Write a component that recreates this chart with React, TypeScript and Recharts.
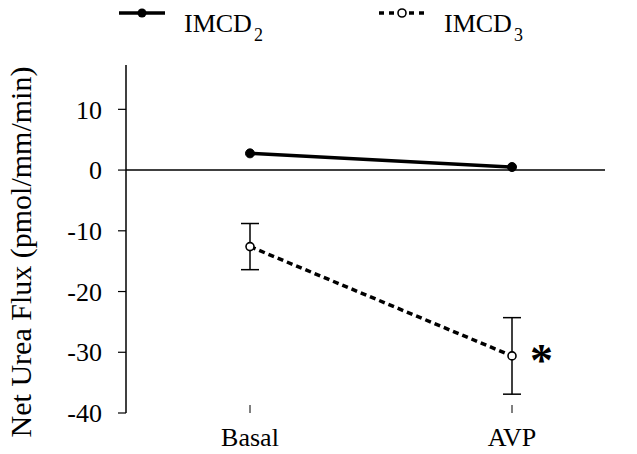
import React from 'react';
import { LineChart, Line, XAxis, YAxis, ReferenceLine, ErrorBar, LabelList } from 'recharts';

const categories = ['Basal', 'AVP'];
const imcd2 = [2.75, 0.5];
const imcd3 = [-12.6, -30.6];
const imcd3Err = [3.8, 6.3];
const imcd3Sig = ['', '*'];
const yTicks = [-40, -30, -20, -10, 0, 10];

const data = categories.map((name, i) => ({
  name,
  imcd2: imcd2[i],
  imcd3: imcd3[i],
  err3: imcd3Err[i],
  sig: imcd3Sig[i],
}));

const FONT = "'Liberation Serif', 'Times New Roman', Times, 'DejaVu Serif', serif";

const XTick = (props: any) => {
  const { x, y, payload } = props;
  return (
    <g>
      <line x1={x} x2={x} y1={y - 8} y2={y} stroke="#000" strokeWidth={1} />
      <text x={x} y={y + 33} textAnchor="middle" fontFamily={FONT} fontSize={26} fill="#000">
        {payload.value}
      </text>
    </g>
  );
};

const Sig = (props: any) => {
  const { x, y, value } = props;
  if (!value) return null;
  return (
    <text x={x + 18} y={y + 20} fontFamily={FONT} fontSize={46} fontWeight="bold" fill="#000">
      {value}
    </text>
  );
};

const YLabel = (props: any) => {
  const { viewBox } = props;
  const cx = 31;
  const cy = viewBox.y + viewBox.height / 2 + 13;
  return (
    <text
      x={cx}
      y={cy}
      transform={`rotate(-90, ${cx}, ${cy})`}
      textAnchor="middle"
      fontFamily={FONT}
      fontSize={30}
      fill="#000"
    >
      Net Urea Flux (pmol/mm/min)
    </text>
  );
};

function LegendBox() {
  return (
    <svg width={637} height={50} style={{ position: 'absolute', left: 0, top: 0 }}>
      <line x1={119} x2={165} y1={13} y2={13} stroke="#000" strokeWidth={3.5} />
      <circle cx={142} cy={13} r={4.5} fill="#000" />
      <text x={184} y={32} fontFamily={FONT} fontSize={26} fill="#000">
        IMCD<tspan fontSize={18} dx={2} dy={9}>2</tspan>
      </text>
      <line x1={379} x2={424} y1={13} y2={13} stroke="#000" strokeWidth={3.5} strokeDasharray="5 5" />
      <circle cx={402} cy={13} r={4} fill="#fff" stroke="#000" strokeWidth={1.6} />
      <text x={444} y={32} fontFamily={FONT} fontSize={26} fill="#000">
        IMCD<tspan fontSize={18} dx={2} dy={9}>3</tspan>
      </text>
    </svg>
  );
}

export default function App() {
  return (
    <div style={{ position: 'absolute', left: 0, top: 0, width: 637, height: 454, background: '#fff', fontFamily: FONT }}>
      <LineChart
        width={637}
        height={454}
        data={data}
        margin={{ top: 65, right: 32, bottom: 0, left: 0 }}
        style={{ fontFamily: FONT }}
      >
        <XAxis
          dataKey="name"
          axisLine={false}
          tickLine={false}
          tickSize={0}
          tickMargin={0}
          height={41}
          padding={{ left: 124, right: 93 }}
          tick={<XTick />}
        />
        <YAxis
          width={126}
          domain={[-40, 17.3]}
          ticks={yTicks}
          allowDataOverflow
          axisLine={{ stroke: '#000', strokeWidth: 1.5 }}
          tickLine={{ stroke: '#000', strokeWidth: 1.2 }}
          tickSize={8}
          tickMargin={16}
          tick={{ fill: '#000', fontSize: 26, fontFamily: FONT }}
          label={<YLabel />}
        />
        <ReferenceLine y={0} stroke="#000" strokeWidth={1.5} />
        <Line
          dataKey="imcd2"
          stroke="#000"
          strokeWidth={3.5}
          dot={{ r: 4.5, fill: '#000', stroke: '#000', strokeWidth: 1 }}
          isAnimationActive={false}
        />
        <Line
          dataKey="imcd3"
          stroke="#000"
          strokeWidth={3.5}
          strokeDasharray="6 4"
          dot={{ r: 4, fill: '#fff', stroke: '#000', strokeWidth: 1.6, strokeDasharray: '0' }}
          isAnimationActive={false}
        >
          <ErrorBar dataKey="err3" width={9} stroke="#000" strokeWidth={1.5} direction="y" />
          <LabelList dataKey="sig" content={<Sig />} />
        </Line>
      </LineChart>
      <LegendBox />
    </div>
  );
}
